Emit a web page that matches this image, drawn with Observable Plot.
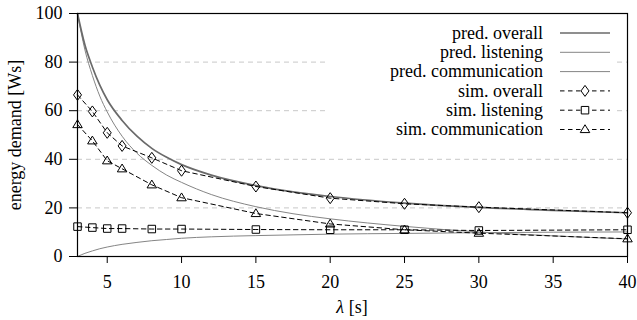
<!DOCTYPE html>
<html>
<head>
<meta charset="utf-8">
<script src="https://cdn.jsdelivr.net/npm/d3@7"></script>
<script src="https://cdn.jsdelivr.net/npm/@observablehq/plot@0.6"></script>
<style>
  html, body { margin: 0; padding: 0; background: white; }
  #chart svg { display: block; }
  #chart svg text { font-family: "Liberation Serif", "Times New Roman", Times, "DejaVu Serif", serif !important; }
</style>
</head>
<body>
<div id="chart"></div>
<script>
// ---- data ----
const predX = [3, 3.5, 4, 4.5, 5, 6, 7, 8, 9, 10, 12, 15, 17.5, 20, 25, 30, 35, 40];
const predOverall = [100, 87, 78, 70.5, 64.5, 56, 49.5, 44.5, 40.8, 37.8, 33.5, 29.2, 26.6, 24.7, 22, 20.2, 19, 18];
const predListening = [0, 1.3, 2.3, 3.2, 3.9, 5.0, 5.8, 6.5, 7.0, 7.5, 8.1, 8.6, 8.9, 9.2, 9.5, 9.8, 10, 10.1];
const predCommunication = [100, 85, 74.5, 66, 59.5, 49.5, 42.5, 37.5, 33.5, 30.5, 25.5, 20.5, 17.6, 15.5, 12.4, 10.1, 8.5, 7.2];

const simX = [3, 4, 5, 6, 8, 10, 15, 20, 25, 30, 40];
const simOverall = [66.5, 59.7, 50.9, 45.5, 40.6, 35.3, 28.8, 24.0, 21.7, 20.3, 18.0];
const simListening = [12.3, 11.9, 11.5, 11.5, 11.3, 11.3, 11.1, 11.0, 11.0, 10.7, 11.0];
const simCommunication = [54.3, 47.6, 39.4, 36.1, 29.5, 24.2, 17.7, 13.4, 11.0, 9.6, 7.3];

const xTicks = [5, 10, 15, 20, 25, 30, 35, 40];
const yTicks = [0, 20, 40, 60, 80, 100];
const gridY = [20, 40, 60, 80];

const legendLabels = ["pred. overall", "pred. listening", "pred. communication",
                      "sim. overall", "sim. listening", "sim. communication"];

// ---- tables ----
const pred = (ys) => predX.map((x, i) => ({x, y: ys[i]}));
const sim = (ys) => simX.map((x, i) => ({x, y: ys[i]}));

// custom open marker shapes
const diamondSym = {draw(ctx, size) { const r = Math.sqrt(size / Math.PI); const w = r * 0.8, h = r * 1.1;
  ctx.moveTo(0, -h); ctx.lineTo(w, 0); ctx.lineTo(0, h); ctx.lineTo(-w, 0); ctx.closePath(); }};
const squareSym = {draw(ctx, size) { const r = Math.sqrt(size / Math.PI) * 0.75;
  ctx.moveTo(-r, -r); ctx.lineTo(r, -r); ctx.lineTo(r, r); ctx.lineTo(-r, r); ctx.closePath(); }};
const triangleSym = {draw(ctx, size) { const r = Math.sqrt(size / Math.PI); const h = r * 0.95, w = r * 0.95;
  ctx.moveTo(0, -h); ctx.lineTo(w, h * 0.65); ctx.lineTo(-w, h * 0.65); ctx.closePath(); }};

const FONT = "Liberation Serif, Times New Roman, serif";
const FS = "18px";
const DASH = "4.5,3.5";
const thickGrey = "#6a6a6a", thinGrey = "#858585";

const chart = Plot.plot({
  width: 637,
  height: 320,
  marginLeft: 77,
  marginRight: 10,
  marginTop: 13,
  marginBottom: 64,
  style: {fontFamily: FONT, fontSize: FS, color: "black", background: "white", overflow: "visible"},
  x: {domain: [3, 40]},
  y: {domain: [0, 100]},
  marks: [
    Plot.ruleY(gridY, {stroke: "#c8c8c8", strokeWidth: 1, strokeDasharray: "5,4"}),
    Plot.line(pred(predListening), {x: "x", y: "y", stroke: thinGrey, strokeWidth: 1, curve: "monotone-x"}),
    Plot.line(pred(predCommunication), {x: "x", y: "y", stroke: thinGrey, strokeWidth: 1, curve: "monotone-x"}),
    Plot.line(pred(predOverall), {x: "x", y: "y", stroke: thickGrey, strokeWidth: 1.7, curve: "monotone-x"}),
    Plot.line(sim(simOverall), {x: "x", y: "y", stroke: "black", strokeWidth: 1, strokeDasharray: DASH}),
    Plot.line(sim(simListening), {x: "x", y: "y", stroke: "black", strokeWidth: 1, strokeDasharray: DASH}),
    Plot.line(sim(simCommunication), {x: "x", y: "y", stroke: "black", strokeWidth: 1, strokeDasharray: DASH}),
    Plot.dot(sim(simOverall), {x: "x", y: "y", symbol: diamondSym, r: 5, stroke: "black", strokeWidth: 1, fill: "none"}),
    Plot.dot(sim(simListening), {x: "x", y: "y", symbol: squareSym, r: 5, stroke: "black", strokeWidth: 1, fill: "none"}),
    Plot.dot(sim(simCommunication), {x: "x", y: "y", symbol: triangleSym, r: 5, stroke: "black", strokeWidth: 1, fill: "none"}),
    Plot.frame({stroke: "black", strokeWidth: 1.2}),
    Plot.axisX({ticks: xTicks, tickSize: 7, tickPadding: 12, label: null, tickFormat: d => String(d)}),
    Plot.axisY({ticks: yTicks, tickSize: 8, tickPadding: 7, label: null, tickFormat: d => String(d)})
  ]
});
document.getElementById("chart").appendChild(chart);

// ---- axis titles and legend ----
const svg = d3.select(chart);
svg.append("text")
  .attr("x", 352).attr("y", 313)
  .attr("text-anchor", "middle")
  .attr("font-size", FS).attr("fill", "black")
  .html('<tspan font-style="italic">λ</tspan> [s]');
svg.append("text")
  .attr("transform", "translate(21,135) rotate(-90)")
  .attr("text-anchor", "middle")
  .attr("font-size", FS).attr("fill", "black")
  .text("energy demand [Ws]");

const lg = svg.append("g");
lg.append("rect").attr("x", 326).attr("y", 17).attr("width", 291).attr("height", 125).attr("fill", "white");
const rowY = [33, 52.3, 71.6, 90.9, 110.2, 129.5];
const styles = [
  {stroke: thickGrey, width: 1.7, dash: null, sym: null},
  {stroke: thinGrey, width: 1, dash: null, sym: null},
  {stroke: thinGrey, width: 1, dash: null, sym: null},
  {stroke: "black", width: 1, dash: DASH, sym: diamondSym},
  {stroke: "black", width: 1, dash: DASH, sym: squareSym},
  {stroke: "black", width: 1, dash: DASH, sym: triangleSym}
];
legendLabels.forEach((lab, i) => {
  const y = rowY[i];
  lg.append("text").attr("x", 543).attr("y", y).attr("dy", "0.32em")
    .attr("text-anchor", "end").attr("font-size", FS).attr("fill", "black")
    .text(lab);
  const s = styles[i];
  const ln = lg.append("line").attr("x1", 560).attr("x2", 610).attr("y1", y).attr("y2", y)
    .attr("stroke", s.stroke).attr("stroke-width", s.width);
  if (s.dash) ln.attr("stroke-dasharray", DASH).attr("stroke-dashoffset", 0);
  if (s.sym) {
    lg.append("path").attr("transform", `translate(585,${y})`)
      .attr("d", d3.symbol(s.sym, Math.PI * 25)())
      .attr("fill", "white").attr("stroke", "black").attr("stroke-width", 1);
  }
});
</script>
</body>
</html>
